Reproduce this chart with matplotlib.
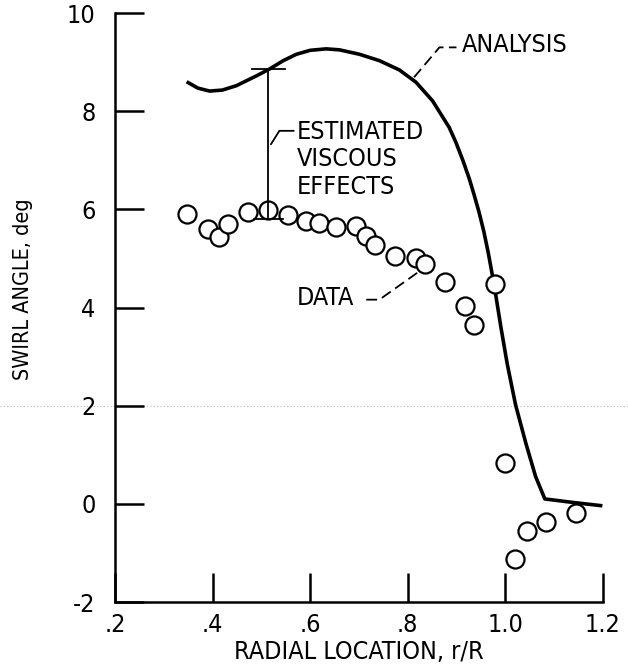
import matplotlib
matplotlib.use("Agg")
import matplotlib.pyplot as plt
from matplotlib.lines import Line2D

plt.rcParams["font.family"] = ["DejaVu Sans"]
plt.rcParams["font.stretch"] = "condensed"

# Data
data_r = [0.347, 0.390, 0.413, 0.431, 0.472, 0.513, 0.554, 0.592, 0.619, 0.653,
          0.694, 0.715, 0.734, 0.775, 0.817, 0.836, 0.876, 0.918, 0.936, 0.979,
          1.000, 1.020, 1.045, 1.084, 1.145]
data_swirl = [5.90, 5.59, 5.43, 5.71, 5.94, 5.98, 5.88, 5.76, 5.73, 5.65,
              5.66, 5.46, 5.27, 5.05, 5.01, 4.89, 4.52, 4.04, 3.65, 4.47,
              0.84, -1.13, -0.56, -0.36, -0.19]

analysis_r = [0.347, 0.370, 0.394, 0.420, 0.449, 0.490, 0.517, 0.545, 0.572, 0.600,
              0.633, 0.660, 0.701, 0.742, 0.783, 0.817, 0.851, 0.885, 0.899, 0.913,
              0.926, 0.936, 0.946, 0.956, 0.965, 0.977, 0.991, 1.004, 1.021, 1.042,
              1.062, 1.081, 1.137, 1.199]
analysis_swirl = [8.60, 8.47, 8.41, 8.43, 8.52, 8.72, 8.86, 9.03, 9.16, 9.24,
                  9.27, 9.25, 9.16, 9.03, 8.84, 8.59, 8.21, 7.67, 7.36, 7.00,
                  6.63, 6.30, 5.95, 5.55, 5.12, 4.47, 3.60, 2.85, 2.02, 1.24,
                  0.56, 0.10, 0.03, -0.04]

viscous_r = 0.514
viscous_top = 8.86
viscous_bottom = 5.80

xticks = [0.2, 0.4, 0.6, 0.8, 1.0, 1.2]
xticklabels = [".2", ".4", ".6", ".8", "1.0", "1.2"]
yticks = [-2, 0, 2, 4, 6, 8, 10]
yticklabels = ["-2", "0", "2", "4", "6", "8", "10"]

fig = plt.figure(figsize=(6.28, 6.68), dpi=100)
ax = fig.add_axes([0.183, 0.0988, 0.777, 0.8817])

ax.plot(analysis_r, analysis_swirl, color="black", lw=2.6, solid_capstyle="butt",
        solid_joinstyle="round")
ax.plot(data_r, data_swirl, "o", ms=13, mfc="white", mec="black", mew=1.6, ls="none")

# viscous effects bracket
ax.plot([viscous_r, viscous_r], [viscous_bottom, viscous_top], color="black", lw=1.3)
ax.plot([0.480, 0.548], [viscous_top, viscous_top], color="black", lw=1.3)
ax.plot([0.485, 0.545], [viscous_bottom, viscous_bottom], color="black", lw=1.3)

lbl = dict(fontsize=18, color="black")
ax.text(0.910, 9.35, "ANALYSIS", va="center", ha="left", **lbl)
ax.plot([0.813, 0.865, 0.900], [8.69, 9.30, 9.30], color="black", lw=1.3, ls=(0, (6, 3)))

ax.text(0.572, 7.83, "ESTIMATED\nVISCOUS\nEFFECTS", va="top", ha="left",
        linespacing=1.2, **lbl)
ax.plot([0.520, 0.537, 0.566], [7.33, 7.60, 7.60], color="black", lw=1.3)

ax.text(0.572, 4.20, "DATA", va="center", ha="left", **lbl)
ax.plot([0.715, 0.742, 0.820], [4.16, 4.16, 4.71], color="black", lw=1.3, ls=(0, (6, 3)))

ax.set_xlim(0.2, 1.2)
ax.set_ylim(-2, 10)
ax.set_xticks(xticks)
ax.set_xticklabels(xticklabels)
ax.set_yticks(yticks)
ax.set_yticklabels(yticklabels)
ax.tick_params(axis="both", direction="in", length=21, width=1.8, labelsize=18)
ax.tick_params(axis="x", pad=8)
ax.tick_params(axis="y", pad=14)
for s in ["top", "right"]:
    ax.spines[s].set_visible(False)
for s in ["left", "bottom"]:
    ax.spines[s].set_linewidth(1.8)

ax.set_xlabel("RADIAL LOCATION, r/R", fontsize=18, labelpad=2)
ax.set_ylabel("SWIRL ANGLE, deg", fontsize=15.5, va="center")
ax.yaxis.set_label_coords(-0.188, 0.531)
ax.patch.set_alpha(0)

# faint dotted scan line across the page
fig.add_artist(Line2D([0, 1], [1 - 406 / 668, 1 - 406 / 668], color="#bbbbbb",
                      lw=0.8, ls=(0, (1, 2)), zorder=0))

fig.savefig("out.png", dpi=100)
